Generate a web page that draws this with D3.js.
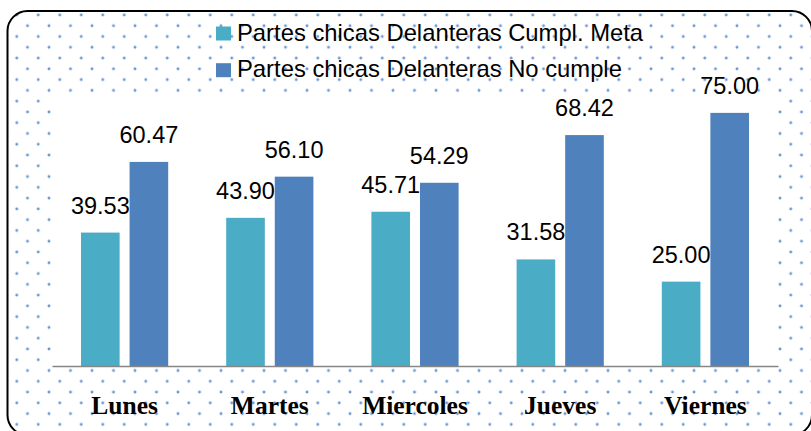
<!DOCTYPE html>
<html>
<head>
<meta charset="utf-8">
<script src="https://cdn.jsdelivr.net/npm/d3@7"></script>
<style>
  html, body { margin: 0; padding: 0; background: #fff; }
  svg { display: block; }
</style>
</head>
<body>
<script>
const categories = ["Lunes", "Martes", "Miercoles", "Jueves", "Viernes"];
const seriesNames = ["Partes chicas Delanteras Cumpl. Meta", "Partes chicas Delanteras No cumple"];
const cumplMeta = [39.53, 43.90, 45.71, 31.58, 25.00];
const noCumple = [60.47, 56.10, 54.29, 68.42, 75.00];
const colors = ["#4BACC6", "#4F81BD"];
const yMax = 80;

const W = 811, H = 431;
const svg = d3.select("body").append("svg").attr("width", W).attr("height", H);

const defs = svg.append("defs");
const pat = defs.append("pattern").attr("id", "dots")
  .attr("patternUnits", "userSpaceOnUse")
  .attr("x", 6).attr("y", 4.2)
  .attr("width", 21.5).attr("height", 21.55);
[[10.75, 10.78], [21.5, 21.55], [0, 21.55], [21.5, 0], [0, 0]].forEach(p => {
  pat.append("circle").attr("cx", p[0]).attr("cy", p[1]).attr("r", 1.45)
    .attr("fill", "#5a8bd0").attr("opacity", 0.9);
});

// frame
svg.append("rect").attr("x", 7.5).attr("y", 11).attr("width", 804.5).attr("height", 424)
  .attr("rx", 20).attr("ry", 20)
  .attr("fill", "#fff");
svg.append("rect").attr("x", 7.5).attr("y", 11).attr("width", 804.5).attr("height", 424)
  .attr("rx", 20).attr("ry", 20)
  .attr("fill", "url(#dots)").attr("stroke", "#000").attr("stroke-width", 2);

const plot = { left: 52, right: 778, top: 95, bottom: 366 };
svg.append("rect").attr("x", plot.left).attr("y", plot.top)
  .attr("width", plot.right - plot.left).attr("height", plot.bottom - plot.top + 1)
  .attr("fill", "#fff");

const x0 = d3.scaleBand().domain(categories).range([plot.left, plot.right]).paddingInner(0).paddingOuter(0);
const groupPad = 29;
const x1 = d3.scaleBand().domain([0, 1]).range([groupPad, x0.bandwidth() - groupPad]).paddingInner(0.205);
const y = d3.scaleLinear().domain([0, yMax]).range([366, 96]);

const data = categories.map((c, i) => ({ cat: c, vals: [cumplMeta[i], noCumple[i]] }));

const groups = svg.append("g").selectAll("g").data(data).join("g")
  .attr("transform", d => `translate(${x0(d.cat)},0)`);

groups.selectAll("rect").data(d => d.vals.map((v, k) => ({ v, k }))).join("rect")
  .attr("x", d => x1(d.k))
  .attr("width", x1.bandwidth())
  .attr("y", d => y(d.v))
  .attr("height", d => y(0) - y(d.v))
  .attr("fill", d => colors[d.k]);

groups.selectAll("text.val").data(d => d.vals.map((v, k) => ({ v, k }))).join("text")
  .attr("class", "val")
  .attr("x", d => x1(d.k) + x1.bandwidth() / 2)
  .attr("y", d => y(d.v) - 19)
  .attr("text-anchor", "middle")
  .attr("font-family", "Liberation Sans, Arial, sans-serif")
  .attr("font-size", 23.5)
  .attr("fill", "#000")
  .text(d => d.v.toFixed(2));

// axis
const xAxis = d3.axisBottom(x0).tickSize(0).tickPadding(0);
const ax = svg.append("g").attr("transform", `translate(0,${y(0)})`).call(xAxis);
ax.select(".domain").attr("stroke", "#868686").attr("stroke-width", 1.6);
ax.selectAll(".tick text")
  .attr("y", 48).attr("dy", 0)
  .attr("font-family", "Liberation Serif, Times New Roman, serif")
  .attr("font-weight", "bold")
  .attr("font-size", 25.5)
  .attr("fill", "#000");

// legend
const legend = svg.append("g");
seriesNames.forEach((name, i) => {
  const gy = 26.5 + i * 36.7;
  legend.append("rect").attr("x", 216).attr("y", gy).attr("width", 15).attr("height", 14).attr("fill", colors[i]);
  legend.append("text").attr("x", 237).attr("y", gy + 14.2)
    .attr("font-family", "Liberation Sans, Arial, sans-serif")
    .attr("font-size", 23.8).attr("fill", "#000").text(name);
});
</script>
</body>
</html>
